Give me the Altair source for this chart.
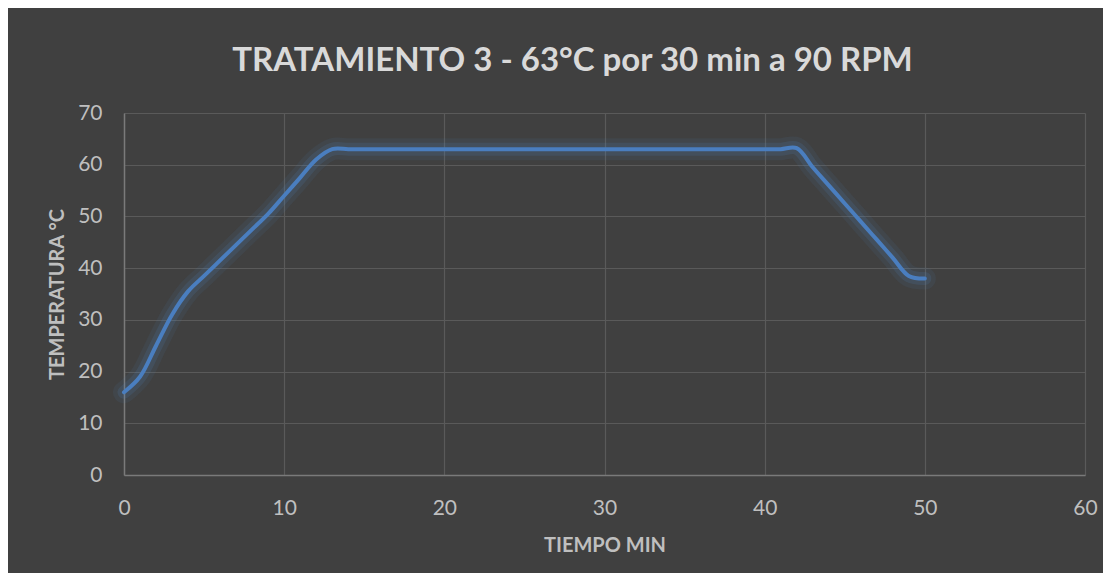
import altair as alt
import pandas as pd

minutes = list(range(0, 51))
temps = [16, 19, 25, 31, 35.5, 38.5, 41.5, 44.5, 47.5, 50.5, 54, 57.5, 61, 63,
         63, 63, 63, 63, 63, 63, 63, 63, 63, 63, 63, 63, 63, 63, 63, 63, 63, 63,
         63, 63, 63, 63, 63, 63, 63, 63, 63, 63, 63.2,
         59.5, 56, 52.5, 49, 45.5, 42, 38.5, 38]

df = pd.DataFrame({"t": minutes, "temp": temps})

FONT = "Lato"
LABEL = "#bfbfbf"

x = alt.X("t:Q", title="TIEMPO MIN", scale=alt.Scale(domain=[0, 60], nice=False),
          axis=alt.Axis(values=[0, 10, 20, 30, 40, 50, 60]))
y = alt.Y("temp:Q", title="TEMPERATURA °C", scale=alt.Scale(domain=[0, 70], nice=False),
          axis=alt.Axis(values=[0, 10, 20, 30, 40, 50, 60, 70]))

base = alt.Chart(df).encode(x=x, y=y)
glow1 = base.mark_line(interpolate="catmull-rom", color="#4f81bd", strokeWidth=22, opacity=0.09, strokeCap="round")
glow2 = base.mark_line(interpolate="catmull-rom", color="#4f81bd", strokeWidth=13, opacity=0.16, strokeCap="round")
line = base.mark_line(interpolate="catmull-rom", color="#4a7ebf", strokeWidth=4, strokeCap="round")

chart = alt.layer(glow1, glow2, line).properties(
    width=961, height=362,
    title=alt.TitleParams("TRATAMIENTO 3 - 63°C por 30 min a 90 RPM", font=FONT, fontSize=33,
                          fontWeight="bold", color="#d9d9d9", anchor="middle", offset=24, dx=-32),
    background="#404040",
    padding={"left": 116, "top": 105, "right": 18, "bottom": 98},
    autosize=alt.AutoSizeParams(type="none"),
).configure_view(stroke=None).configure_axis(
    labelFont=FONT, labelFontSize=21, labelColor=LABEL, labelFlush=False,
    titleFont=FONT, titleFontSize=20, titleFontWeight="bold", titleColor=LABEL,
    gridColor="#5a5a5a", gridWidth=1.2, domainColor="#7a7a7a", domainWidth=1.5,
    ticks=False,
).configure_axisX(labelPadding=22, titlePadding=17
).configure_axisY(labelPadding=22, titlePadding=10)

chart.save("out.html", embed_options={"renderer": "svg", "actions": False})
